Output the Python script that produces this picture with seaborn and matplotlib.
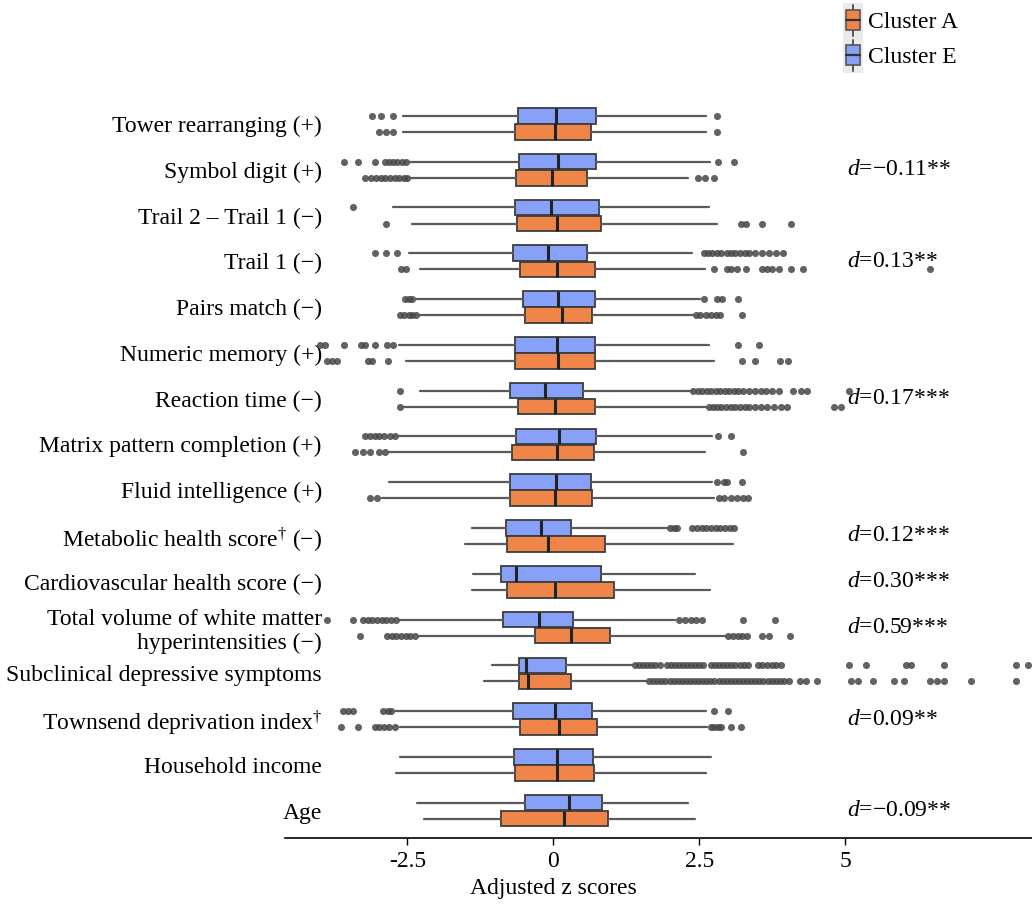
import numpy as np
import pandas as pd
import matplotlib
import matplotlib.pyplot as plt
import seaborn as sns
from matplotlib.legend_handler import HandlerBase
from matplotlib.patches import Rectangle, Patch
from matplotlib.lines import Line2D

categories = [
    "Tower rearranging (+)", "Symbol digit (+)", "Trail 2 \u2013 Trail 1 (\u2212)",
    "Trail 1 (\u2212)", "Pairs match (\u2212)", "Numeric memory (+)",
    "Reaction time (\u2212)", "Matrix pattern completion (+)", "Fluid intelligence (+)",
    "Metabolic health score$^{\\dagger}$ (\u2212)", "Cardiovascular health score (\u2212)",
    "Total volume of white matter\nhyperintensities (\u2212)",
    "Subclinical depressive symptoms", "Townsend deprivation index$^{\\dagger}$",
    "Household income", "Age",
]

# Cluster E (blue)
e_q1 = [-0.61, -0.58, -0.65, -0.69, -0.52, -0.66, -0.74, -0.64, -0.75, -0.81, -0.90, -0.86, -0.58, -0.69, -0.67, -0.48]
e_med = [0.04, 0.08, -0.04, -0.10, 0.08, 0.07, -0.15, 0.10, 0.05, -0.22, -0.64, -0.25, -0.46, 0.02, 0.06, 0.26]
e_q3 = [0.73, 0.73, 0.78, 0.58, 0.71, 0.71, 0.51, 0.73, 0.65, 0.31, 0.81, 0.34, 0.21, 0.66, 0.68, 0.84]
e_lo = [-2.57, -2.48, -2.75, -2.48, -2.36, -2.65, -2.28, -2.69, -2.81, -1.39, -1.38, -2.65, -1.05, -2.74, -2.62, -2.34]
e_hi = [2.61, 2.68, 2.66, 2.38, 2.52, 2.66, 2.39, 2.72, 2.72, 1.98, 2.43, 2.08, 1.37, 2.62, 2.70, 2.31]
e_fliers = [
    [-3.10, -2.96, -2.75, 2.80],
    [-3.59, -3.34, -3.06, -2.89, -2.82, -2.75, -2.68, -2.60, -2.53, 2.82, 3.09],
    [-3.44],
    [-3.06, -2.87, -2.67, 2.58, 2.65, 2.72, 2.80, 2.88, 2.98, 3.05, 3.12, 3.20, 3.28, 3.36, 3.46, 3.58, 3.70, 3.82, 3.93],
    [-2.54, -2.48, -2.42, 2.58, 2.80, 2.89, 3.16],
    [-4.00, -3.92, -3.59, -3.30, -3.22, -3.06, -2.85, -2.75, 3.16, 3.52],
    [-2.62, 2.40, 2.47, 2.55, 2.63, 2.70, 2.78, 2.86, 2.94, 3.01, 3.09, 3.17, 3.25, 3.35, 3.45, 3.55,
     3.65, 3.75, 3.87, 4.11, 4.24, 4.34, 5.06],
    [-3.22, -3.14, -3.06, -2.98, -2.90, -2.80, -2.72, 2.82, 3.05],
    [2.80, 2.92, 2.98, 3.23],
    [2.00, 2.06, 2.12, 2.38, 2.46, 2.54, 2.62, 2.70, 2.78, 2.86, 2.94, 3.02, 3.10],
    [],
    [-3.88, -3.44, -3.26, -3.18, -3.10, -3.02, -2.94, -2.86, -2.78, -2.70, 2.15, 2.25, 2.35, 2.45, 2.55, 3.25, 3.79],
    [1.40, 1.47, 1.54, 1.61, 1.68, 1.75, 1.82, 1.94, 2.01, 2.08, 2.15, 2.22, 2.29, 2.36, 2.43, 2.50, 2.56,
     2.70, 2.77, 2.84, 2.91, 2.98, 3.05, 3.12, 3.19, 3.26, 3.34, 3.50, 3.58, 3.66, 3.74, 3.82, 3.90,
     5.06, 5.36, 6.04, 6.12, 6.70, 7.93, 8.13],
    [-3.60, -3.52, -3.44, -2.91, -2.84, -2.78, 2.76, 3.00],
    [],
    [],
]

# Cluster A (orange)
a_q1 = [-0.66, -0.64, -0.62, -0.57, -0.49, -0.66, -0.61, -0.70, -0.75, -0.79, -0.79, -0.32, -0.59, -0.57, -0.66, -0.89]
a_med = [0.02, -0.03, 0.07, 0.06, 0.14, 0.08, 0.02, 0.06, 0.02, -0.10, 0.02, 0.31, -0.43, 0.10, 0.06, 0.18]
a_q3 = [0.65, 0.57, 0.82, 0.71, 0.67, 0.71, 0.71, 0.69, 0.66, 0.88, 1.04, 0.97, 0.30, 0.74, 0.69, 0.94]
a_lo = [-2.57, -2.46, -2.43, -2.28, -2.30, -2.52, -2.57, -2.81, -2.93, -1.52, -1.39, -2.30, -1.19, -2.62, -2.69, -2.22]
a_hi = [2.61, 2.31, 2.80, 2.60, 2.39, 2.75, 2.64, 2.60, 2.76, 3.07, 2.68, 2.95, 1.61, 2.64, 2.61, 2.43]
a_fliers = [
    [-2.98, -2.87, -2.75, 2.80],
    [-3.22, -3.12, -3.04, -2.96, -2.88, -2.80, -2.72, -2.64, -2.56, -2.50, 2.48, 2.60, 2.76],
    [-2.87, 3.22, 3.30, 3.58, 4.07],
    [-2.61, -2.53, 2.76, 2.97, 3.05, 3.15, 3.30, 3.58, 3.66, 3.75, 3.87, 4.07, 4.28, 6.45],
    [-2.62, -2.55, -2.48, -2.42, -2.36, 2.45, 2.52, 2.62, 2.70, 2.78, 2.85, 3.23],
    [-3.88, -3.80, -3.70, -3.18, -3.10, -2.84, 3.23, 3.46, 3.89, 4.02],
    [-2.62, 2.66, 2.73, 2.80, 2.88, 2.96, 3.04, 3.12, 3.20, 3.28, 3.36, 3.46, 3.56, 3.66, 3.78, 3.90, 4.00,
     4.81, 4.93],
    [-3.39, -3.26, -3.14, -2.98, -2.89, 3.25],
    [-3.14, -3.02, 2.84, 2.92, 3.05, 3.15, 3.25, 3.34],
    [],
    [],
    [-3.32, -2.85, -2.77, -2.69, -2.61, -2.53, -2.45, -2.37, 3.00, 3.08, 3.16, 3.24, 3.32, 3.58, 3.70, 4.05],
    [1.64, 1.71, 1.78, 1.85, 1.92, 1.99, 2.06, 2.13, 2.20, 2.27, 2.34, 2.41, 2.48, 2.55, 2.62, 2.69, 2.76,
     2.83, 2.90, 2.97, 3.04, 3.11, 3.18, 3.25, 3.32, 3.39, 3.46, 3.53, 3.60, 3.67, 3.74, 3.81, 3.88, 3.95,
     4.03, 4.22, 4.32, 4.52, 5.10, 5.22, 5.47, 5.84, 6.00, 6.45, 6.57, 6.70, 7.15, 7.93],
    [-3.63, -3.34, -3.06, -2.98, -2.90, -2.81, -2.72, 2.70, 2.76, 2.82, 2.88, 3.05, 3.22],
    [],
    [],
]

# effect sizes shown at the right
d_labels = [None, "\u22120.11**", None, "0.13**", None, None, "0.17***", None, None,
            "0.12***", "0.30***", "0.59***", None, "0.09**", None, "\u22120.09**"]

xticks = [-2.5, 0, 2.5, 5]
xtick_labels = ["-2.5", "0", "2.5", "5"]

orange = "#F0854A"
blue = "#86A1F7"
edge = "#3d3d3d"

sns.set_theme(style="white")
plt.rcParams["font.family"] = ["Liberation Serif", "DejaVu Serif"]
plt.rcParams["mathtext.fontset"] = "custom"
plt.rcParams["mathtext.rm"] = "Liberation Serif"
plt.rcParams["mathtext.it"] = "Liberation Serif:italic"
for key in ["text.color", "axes.labelcolor", "xtick.color", "ytick.color"]:
    plt.rcParams[key] = "black"

fig = plt.figure(figsize=(10.32, 9.10), dpi=100)
ax = fig.add_axes([0.276, 0.079, 0.724, 0.815])

pos = np.arange(len(categories))
off = 0.175
w = 0.34


def stats(q1, med, q3, lo, hi):
    return [dict(q1=a, med=b, q3=c, whislo=d, whishi=e, fliers=[])
            for a, b, c, d, e in zip(q1, med, q3, lo, hi)]


common = dict(widths=w, orientation="horizontal", patch_artist=True, showcaps=False,
              showfliers=False, medianprops=dict(color="#222222", lw=2.2),
              whiskerprops=dict(color="#5a5a5a", lw=1.6))
ax.bxp(stats(e_q1, e_med, e_q3, e_lo, e_hi), positions=pos - off,
       boxprops=dict(facecolor=blue, edgecolor=edge, lw=1.3), **common)
ax.bxp(stats(a_q1, a_med, a_q3, a_lo, a_hi), positions=pos + off,
       boxprops=dict(facecolor=orange, edgecolor=edge, lw=1.3), **common)

# outliers
rows = []
for i in range(len(categories)):
    for v in e_fliers[i]:
        rows.append((v, i - off))
    for v in a_fliers[i]:
        rows.append((v, i + off))
df_fl = pd.DataFrame(rows, columns=["score", "ypos"])
sns.scatterplot(data=df_fl, x="score", y="ypos", color="#474747", s=26, linewidth=0,
                alpha=0.85, legend=False, ax=ax, zorder=1)

for i, lab in enumerate(d_labels):
    if lab:
        ax.text(5.03, i, "$d$=" + lab, ha="left", va="center", fontsize=17)

ax.set_xlim(-4.6, 8.2)
ax.set_ylim(15.6, -0.6)
ax.set_yticks(pos, categories)
ax.set_xticks(xticks, xtick_labels)
ax.tick_params(axis="y", length=0, pad=-26.6, labelsize=17)
ax.tick_params(axis="x", length=5, width=1, color="black", direction="out", labelsize=17, pad=4,
               bottom=True)
for s in ["left", "top", "right"]:
    ax.spines[s].set_visible(False)
ax.spines["bottom"].set_color("black")
ax.spines["bottom"].set_linewidth(1.2)
ax.set_ylabel("")
ax.set_xlabel("Adjusted z scores", fontsize=17)
xmin, xmax = ax.get_xlim()
ax.xaxis.set_label_coords((0 - xmin) / (xmax - xmin), -0.054)


class BoxHandler(HandlerBase):
    def create_artists(self, legend, orig_handle, xdescent, ydescent, width, height, fontsize, trans):
        x0, y0 = -xdescent, -ydescent
        cx = x0 + width / 2
        bg = Rectangle((x0, y0), width, height, facecolor="#ebebeb", edgecolor="none", transform=trans)
        wl = Line2D([cx, cx], [y0 + 0.06 * height, y0 + 0.94 * height], color="#555555", lw=1.4,
                    transform=trans)
        bw, bh = 0.72 * width, 0.56 * height
        box = Rectangle((cx - bw / 2, y0 + (height - bh) / 2), bw, bh,
                        facecolor=orig_handle.get_facecolor(), edgecolor="#555555", lw=1.2,
                        transform=trans)
        md = Line2D([cx - bw / 2, cx + bw / 2], [y0 + height / 2] * 2, color="#333333", lw=1.6,
                    transform=trans)
        return [bg, wl, box, md]


handles = [Patch(facecolor=orange), Patch(facecolor=blue)]
fig.legend(handles, ["Cluster A", "Cluster E"], loc="upper left", bbox_to_anchor=(0.817, 0.997),
           frameon=False, fontsize=17, handlelength=0.85, handleheight=1.9, labelspacing=0,
           handletextpad=0.2, borderpad=0, borderaxespad=0, handler_map={Patch: BoxHandler()})

fig.savefig("out.png", dpi=100)
